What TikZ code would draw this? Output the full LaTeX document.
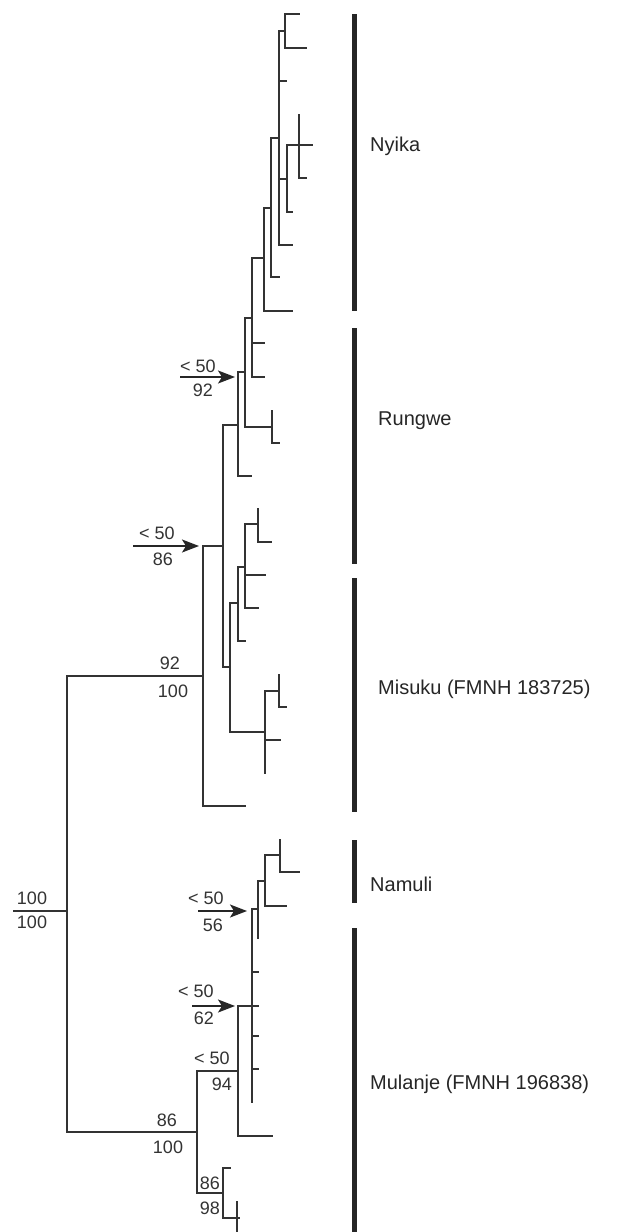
\documentclass[tikz,border=0pt]{standalone}
\usepackage{fontspec}
\setmainfont{Liberation Sans}
\usetikzlibrary{arrows.meta}
\begin{document}
\begin{tikzpicture}[x=1pt,y=-1pt,
  br/.style={draw=black!80, line width=1.3pt},
  num/.style={font=\fontsize{18}{18}\selectfont, text=black!80, inner sep=0pt},
  clade/.style={font=\fontsize{20}{20}\selectfont, text=black!85, anchor=west, inner sep=0pt},
  cladebar/.style={line width=5pt, draw=black!85},
  arr/.style={line width=1.6pt, draw=black!85, -{Stealth[length=17pt,width=13pt,inset=4pt]}}]
\useasboundingbox[fill=white] (0,0) rectangle (623,1232);
% ---------- coordinates ----------
\coordinate (r0) at (13,911);
\coordinate (A) at (67,911);
\coordinate (B) at (203,676);
\coordinate (MU) at (197,1132);
\coordinate (b1) at (246,806);
\coordinate (C) at (223,546);
\coordinate (D) at (238,425);
\coordinate (MS) at (230,667);
\coordinate (E) at (245,372);
\coordinate (d1) at (252,476);
\coordinate (F) at (252,318);
\coordinate (G) at (272,427);
\coordinate (g1) at (272,410);
\coordinate (g2) at (280,443);
\coordinate (H) at (264,258);
\coordinate (f1) at (265,343);
\coordinate (f2) at (265,377);
\coordinate (I) at (271,208);
\coordinate (h1) at (293,311);
\coordinate (J) at (279,138);
\coordinate (i1) at (280,277);
\coordinate (K) at (285,31);
\coordinate (j1) at (287,81);
\coordinate (L) at (287,179);
\coordinate (j2) at (293,245);
\coordinate (k1) at (300,14);
\coordinate (k2) at (307,48);
\coordinate (N) at (299,145);
\coordinate (l1) at (293,212);
\coordinate (n1) at (299,114);
\coordinate (n2) at (313,145);
\coordinate (n3) at (307,178);
% Misuku
\coordinate (O) at (238,603);
\coordinate (P) at (265,732);
\coordinate (Q) at (245,567);
\coordinate (o1) at (246,641);
\coordinate (S) at (258,524);
\coordinate (q1) at (266,575);
\coordinate (q2) at (259,608);
\coordinate (s1) at (258,508);
\coordinate (s2) at (272,542);
\coordinate (T) at (279,691);
\coordinate (p1) at (281,740);
\coordinate (p2) at (265,774);
\coordinate (t1) at (279,674);
\coordinate (t2) at (287,707);
% Namuli / Mulanje
\coordinate (U) at (238,1071);
\coordinate (V) at (223,1193);
\coordinate (W) at (252,1006);
\coordinate (u1) at (273,1136);
\coordinate (X) at (258,909);
\coordinate (w1) at (259,972);
\coordinate (w2) at (259,1006);
\coordinate (w3) at (259,1036);
\coordinate (w4) at (259,1069);
\coordinate (w5) at (252,1103);
\coordinate (Y) at (265,881);
\coordinate (x1) at (258,939);
\coordinate (Z) at (280,855);
\coordinate (y1) at (287,906);
\coordinate (z1) at (280,839);
\coordinate (z2) at (300,872);
\coordinate (v1) at (231,1168);
\coordinate (Vb) at (237,1218);
\coordinate (vb1) at (237,1201);
\coordinate (vb2) at (237,1232);
\coordinate (vb3) at (240,1218);
% ---------- branches ----------
\draw[br] (r0) -- (A);
\foreach \p/\c in {A/B, A/MU, B/b1, B/C, C/D, C/MS, D/E, D/d1, E/F, E/G, G/g1, G/g2,
  F/H, F/f1, F/f2, H/I, H/h1, I/J, I/i1, J/K, J/j1, J/L, J/j2, K/k1, K/k2,
  L/N, L/l1, N/n1, N/n2, N/n3,
  MS/O, MS/P, O/Q, O/o1, Q/S, Q/q1, Q/q2, S/s1, S/s2, P/T, P/p1, P/p2, T/t1, T/t2,
  MU/U, MU/V, U/W, U/u1, W/X, W/w1, W/w2, W/w3, W/w4, W/w5, X/Y, X/x1, Y/Z, Y/y1,
  Z/z1, Z/z2, V/v1, V/Vb, Vb/vb1, Vb/vb2, Vb/vb3}
  \draw[br] (\p) |- (\c);
% ---------- support values ----------
\node[num] (s100a) at (32,898) {100};
\node[num] (s100b) at (32,922) {100};
\node[num] (s92) at (170,663) {92};
\node[num] (s100c) at (173,691) {100};
\node[num] (s86a) at (167,1120) {86};
\node[num] (s100d) at (168,1147) {100};
\node[num] (s50u) at (212,1058) {< 50};
\node[num] (s94) at (222,1084) {94};
\node[num] (s86b) at (210,1183) {86};
\node[num] (s98) at (210,1208) {98};
% arrows with labels
\coordinate (a1s) at (180,377); \coordinate (a1e) at (235,377);
\draw[arr] (a1s) -- (a1e);
\node[num] (a1u) at (198,366) {< 50};
\node[num] (a1l) at (203,390) {92};
\coordinate (a2s) at (133,546); \coordinate (a2e) at (199,546);
\draw[arr] (a2s) -- (a2e);
\node[num] (a2u) at (157,533) {< 50};
\node[num] (a2l) at (163,559) {86};
\coordinate (a3s) at (198,911); \coordinate (a3e) at (247,911);
\draw[arr] (a3s) -- (a3e);
\node[num] (a3u) at (206,898) {< 50};
\node[num] (a3l) at (213,925) {56};
\coordinate (a4s) at (192,1006); \coordinate (a4e) at (235,1006);
\draw[arr] (a4s) -- (a4e);
\node[num] (a4u) at (196,991) {< 50};
\node[num] (a4l) at (204,1018) {62};
% ---------- clade bars ----------
\coordinate (nyT) at (354,14);   \coordinate (nyB) at (354,311);
\coordinate (ruT) at (354,328);  \coordinate (ruB) at (354,564);
\coordinate (miT) at (354,578);  \coordinate (miB) at (354,812);
\coordinate (naT) at (354,840);  \coordinate (naB) at (354,903);
\coordinate (muT) at (354,928);  \coordinate (muB) at (354,1232);
\draw[cladebar] (nyT) -- (nyB);
\draw[cladebar] (ruT) -- (ruB);
\draw[cladebar] (miT) -- (miB);
\draw[cladebar] (naT) -- (naB);
\draw[cladebar] (muT) -- (muB);
\node[clade] (lny) at (370,146) {Nyika};
\node[clade] (lru) at (378,421) {Rungwe};
\node[clade] (lmi) at (378,689) {Misuku (FMNH 183725)};
\node[clade] (lna) at (370,884) {Namuli};
\node[clade] (lmu) at (370,1084) {Mulanje (FMNH 196838)};
\end{tikzpicture}
\end{document}
